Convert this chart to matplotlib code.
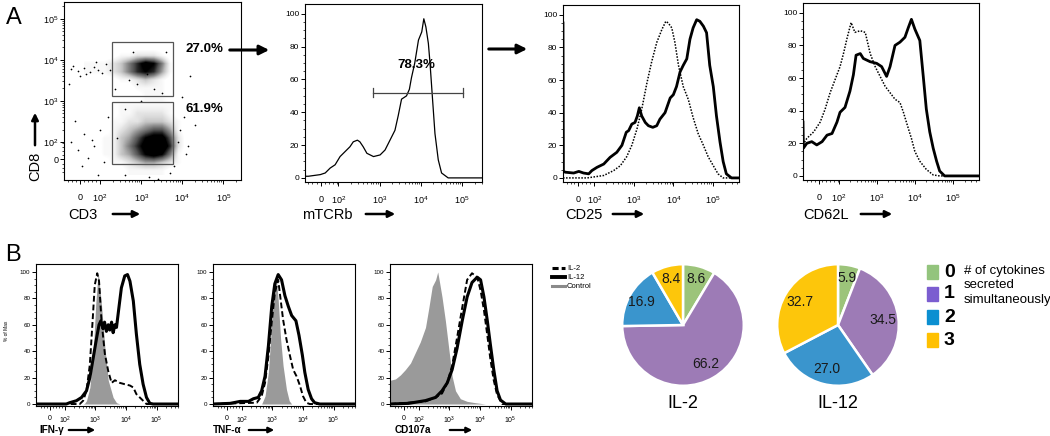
import numpy as np
import matplotlib
matplotlib.use('Agg')
import matplotlib.pyplot as plt
from matplotlib.patches import Rectangle
from matplotlib.lines import Line2D

plt.rcParams['font.family'] = ['Liberation Sans', 'DejaVu Sans']
plt.rcParams['mathtext.fontset'] = 'custom'
plt.rcParams['mathtext.rm'] = 'Liberation Sans'

# x values are logicle-scaled intensities: u = 2 -> 10^2, u = 3 -> 10^3 ...
# y values are % of max

# ---- panel A: CD3 / CD8 dot plot (event density on a 0.2-decade grid) ----
dens_x = [1.7, 1.9, 2.1, 2.3, 2.5, 2.7, 2.9, 3.1, 3.3, 3.5, 3.7, 3.9, 4.1]
dens_y = [4.3, 4.1, 3.9, 3.7, 3.5, 3.3, 3.1, 2.9, 2.7, 2.5, 2.3, 2.1, 1.9, 1.7, 1.5, 1.3]
density = [
    [0, 0, 0, 0, 0, 0, 0, 0, 0, 0, 0, 0, 0],
    [0, 0, 0, 0, 1, 1, 2, 2, 2, 1, 0, 0, 0],
    [1, 1, 1, 2, 3, 5, 7, 9, 8, 5, 1, 0, 0],
    [1, 1, 1, 2, 3, 5, 7, 8, 7, 4, 1, 0, 0],
    [0, 0, 0, 0, 1, 1, 2, 3, 2, 1, 0, 0, 0],
    [0, 0, 0, 0, 0, 0, 1, 1, 1, 1, 0, 0, 0],
    [0, 0, 0, 0, 0, 0, 0, 1, 1, 1, 0, 0, 0],
    [0, 0, 0, 0, 1, 1, 1, 1, 1, 1, 1, 0, 0],
    [0, 0, 0, 0, 1, 1, 2, 2, 2, 2, 1, 0, 0],
    [0, 0, 0, 1, 1, 2, 2, 3, 3, 3, 2, 1, 0],
    [0, 0, 0, 1, 2, 3, 4, 5, 6, 6, 4, 1, 0],
    [0, 0, 1, 1, 3, 4, 6, 8, 9, 9, 6, 2, 0],
    [0, 0, 1, 1, 3, 5, 7, 9, 10, 10, 7, 2, 0],
    [0, 0, 1, 1, 3, 4, 6, 8, 9, 8, 5, 1, 0],
    [0, 0, 0, 1, 1, 2, 3, 4, 4, 3, 2, 1, 0],
    [0, 0, 0, 0, 0, 1, 1, 1, 1, 1, 0, 0, 0],
]
sparse_x = [1.3, 1.45, 1.6, 1.75, 1.85, 1.95, 2.05, 1.5, 2.15, 1.3, 1.45, 1.6, 1.7, 1.85,
            2.0, 2.1, 1.95, 1.55, 2.2, 1.4, 4.0, 3.9, 4.1, 4.05, 3.3, 3.5, 2.9, 3.6, 2.8,
            3.2, 3.4, 3.7, 2.6, 4.3, 3.0, 2.6, 1.25, 2.35, 4.2, 3.8, 1.35, 1.65, 1.9, 2.25,
            1.8, 2.4, 3.95, 4.15, 2.7, 3.15]
sparse_y = [3.78, 3.72, 3.8, 3.7, 3.82, 3.75, 3.68, 3.6, 3.9, 2.0, 1.8, 2.2, 1.6, 1.9,
            2.3, 1.5, 1.2, 1.4, 2.6, 2.5, 3.1, 2.0, 1.7, 2.6, 3.3, 3.2, 3.4, 4.2, 4.2,
            1.15, 1.1, 1.25, 1.2, 2.4, 3.0, 2.8, 3.4, 3.3, 3.6, 1.4, 3.85, 3.65, 3.95,
            3.75, 2.05, 2.1, 2.3, 1.9, 3.5, 3.65]
gate_cd8 = [2.28, 3.12, 1.49, 1.31]   # x, y, width, height
gate_cd4 = [2.28, 1.47, 1.49, 1.49]
gate_pct = ['27.0%', '61.9%']

# ---- panel A: histograms ----
mtcr_u = [1.19, 1.20, 1.27, 1.56, 1.68, 1.80, 1.92, 2.04, 2.16, 2.28, 2.36, 2.46, 2.52, 2.60,
          2.69, 2.85, 3.01, 3.13, 3.25, 3.37, 3.45, 3.53, 3.65, 3.72, 3.77, 3.85, 3.94, 4.02,
          4.07, 4.12, 4.18, 4.22, 4.27, 4.34, 4.42, 4.50, 4.66, 5.48]
mtcr_y = [28, 1, 1, 2, 3, 6, 8, 13, 16, 19, 22, 23, 22, 19, 15, 13, 14, 17, 23, 29, 38, 48,
          50, 54, 61, 70, 84, 89, 97, 92, 82, 70, 52, 27, 11, 3, 0, 0]
mtcr_gate = [2.85, 5.01, 52]
mtcr_pct = '78.3%'

cd25_solid_u = [1.21, 1.22, 1.27, 1.48, 1.61, 1.73, 1.86, 1.94, 2.07, 2.24, 2.40, 2.57, 2.70,
                2.81, 2.87, 2.95, 3.03, 3.09, 3.14, 3.20, 3.29, 3.37, 3.48, 3.58, 3.66, 3.79,
                3.92, 4.00, 4.08, 4.17, 4.25, 4.34, 4.42, 4.50, 4.59, 4.67, 4.76, 4.84, 4.92,
                5.01, 5.09, 5.18, 5.26, 5.34, 5.47, 5.66]
cd25_solid_y = [95, 4, 3.5, 3, 4, 3, 2.5, 4.5, 6.5, 8.5, 12.6, 15.7, 20, 28, 29, 33, 34, 38,
                43, 38, 34, 32, 31, 32, 36, 40, 49, 51, 56, 65, 69, 73, 85, 92, 97, 96, 93,
                89, 69, 56, 38, 22, 10, 2.5, 0, 0]
cd25_dot_u = [1.21, 1.82, 2.24, 2.49, 2.66, 2.82, 2.95, 3.08, 3.20, 3.33, 3.45, 3.58, 3.71,
              3.81, 3.87, 3.96, 4.04, 4.13, 4.25, 4.38, 4.50, 4.63, 4.76, 4.88, 5.01, 5.13,
              5.26, 5.66]
cd25_dot_y = [0, 0, 1.5, 4.5, 7.5, 13, 20, 30, 42, 58, 71, 83, 91, 96, 95, 92, 83, 69, 56,
              48, 37, 27, 20, 13, 7.5, 2.5, 0, 0]

cd62_solid_u = [1.07, 1.08, 1.17, 1.30, 1.43, 1.57, 1.70, 1.83, 1.96, 2.04, 2.17, 2.30, 2.39,
                2.46, 2.57, 2.65, 2.83, 3.00, 3.13, 3.26, 3.35, 3.48, 3.61, 3.74, 3.83, 3.91,
                4.00, 4.13, 4.22, 4.30, 4.39, 4.48, 4.57, 4.65, 4.78, 5.68]
cd62_solid_y = [33, 17, 20, 21, 19, 21, 25, 26, 33, 39, 42, 52, 62, 74, 75, 72, 70, 69, 67,
                61, 67, 80, 82, 85, 91, 96, 90, 83, 61, 41, 27, 17, 9, 3, 0, 0]
cd62_dot_u = [1.07, 1.17, 1.35, 1.52, 1.65, 1.78, 1.91, 2.04, 2.13, 2.23, 2.33, 2.43, 2.57,
              2.70, 2.83, 2.96, 3.09, 3.22, 3.35, 3.48, 3.61, 3.70, 3.83, 3.91, 4.00, 4.13,
              4.30, 4.48, 4.65, 5.68]
cd62_dot_y = [19, 23, 27, 33, 41, 51, 59, 67, 75, 85, 94, 88, 89, 88, 75, 67, 61, 55, 51, 47,
              45, 39, 29, 23, 15, 9, 4, 0.6, 0, 0]

# ---- panel B: cytokine histograms (control filled, IL-2 dashed, IL-12 solid) ----
ifn_ctrl_u = [2.60, 2.65, 2.71, 2.82, 2.93, 3.01, 3.09, 3.11, 3.20, 3.31, 3.42, 3.58, 3.69, 3.80]
ifn_ctrl_y = [0, 0.5, 2.5, 12.5, 38, 75, 100, 96, 75, 43, 18, 5, 1, 0]
ifn_il2_u = [1.05, 2.49, 2.60, 2.71, 2.82, 2.91, 2.98, 3.06, 3.12, 3.20, 3.31, 3.42, 3.53, 3.64,
             3.80, 3.96, 4.13, 4.24, 4.34, 4.45, 4.56, 4.67, 5.70]
ifn_il2_y = [0, 0, 2.5, 10, 30, 63, 90, 99, 93, 63, 38, 25, 16, 18, 16, 15, 14, 12.5, 7.5, 5,
             2.5, 0, 0]
ifn_il12_u = [1.05, 2.05, 2.16, 2.38, 2.55, 2.71, 2.82, 2.93, 3.04, 3.12, 3.18, 3.25, 3.30,
              3.36, 3.42, 3.47, 3.53, 3.58, 3.64, 3.69, 3.78, 3.85, 3.96, 4.05, 4.13, 4.24,
              4.34, 4.45, 4.56, 4.67, 4.78, 4.89, 5.70]
ifn_il12_y = [0, 0, 1, 2.5, 5, 10, 20, 35, 50, 60, 63, 57, 62, 55, 60, 56, 62, 54, 60, 58, 75,
              88, 97, 98, 93, 78, 53, 30, 15, 5, 0.5, 0, 0]

tnf_ctrl_u = [2.65, 2.76, 2.87, 2.98, 3.05, 3.12, 3.19, 3.27, 3.35, 3.46, 3.55, 3.63]
tnf_ctrl_y = [0, 6, 24, 62, 87, 97, 79, 49, 29, 11, 2.5, 0]
tnf_il2_u = [1.06, 2.49, 2.65, 2.76, 2.87, 2.98, 3.08, 3.19, 3.27, 3.35, 3.46, 3.57, 3.68,
             3.79, 3.90, 4.00, 4.11, 4.22, 5.68]
tnf_il2_y = [0, 1, 6, 16, 36, 62, 84, 94, 79, 64, 49, 37, 26, 21, 14, 6, 1, 0, 0]
tnf_il12_u = [1.06, 1.62, 1.95, 2.22, 2.38, 2.54, 2.65, 2.76, 2.87, 2.98, 3.08, 3.19, 3.30,
              3.41, 3.52, 3.63, 3.77, 3.87, 3.98, 4.06, 4.17, 4.28, 4.38, 4.55, 5.68]
tnf_il12_y = [0, 0.5, 2, 2, 4, 5, 10, 21, 44, 74, 91, 98, 94, 82, 74, 67, 63, 52, 37, 24, 11,
              4, 1, 0, 0]

cd107_ctrl_u = [1.07, 1.24, 1.40, 1.56, 1.73, 1.89, 2.05, 2.22, 2.33, 2.44, 2.55, 2.62, 2.68,
                2.76, 2.87, 2.98, 3.09, 3.20, 3.36, 3.58, 3.85, 4.18, 5.71]
cd107_ctrl_y = [18, 19, 22, 26, 31, 39, 47, 58, 73, 89, 94, 100, 92, 81, 63, 42, 21, 10, 4, 2,
                1, 0, 0]
cd107_il2_u = [1.07, 2.22, 2.55, 2.76, 2.93, 3.09, 3.25, 3.42, 3.58, 3.74, 3.91, 4.02, 4.13,
               4.24, 4.34, 4.45, 4.56, 4.73, 5.71]
cd107_il2_y = [0, 2, 5, 8, 16, 29, 50, 73, 94, 99, 96, 86, 71, 52, 34, 18, 7, 0, 0]
cd107_il12_u = [1.07, 1.67, 2.22, 2.55, 2.76, 2.93, 3.09, 3.25, 3.42, 3.58, 3.74, 3.91, 4.02,
                4.13, 4.24, 4.34, 4.45, 4.56, 4.67, 4.84, 5.71]
cd107_il12_y = [0, 0.5, 2.6, 5, 10, 16, 26, 42, 63, 81, 92, 96, 94, 81, 63, 45, 26, 10, 3, 0, 0]

legend_b = ['IL-2', 'IL-12', 'Control']

# ---- panel B: pies ----
n_cytokines = ['0', '1', '2', '3']
pie_il2 = [8.6, 66.2, 16.9, 8.4]
pie_il12 = [5.9, 34.5, 27.0, 32.7]
pie_colors = ['#9cc47a', '#9d7bb6', '#3a95cd', '#fdc60b']
key_colors = ['#93c47d', '#7b5dd0', '#0b8fd1', '#ffc000']

# ------------------------------------------------------------------
W, H = 1050, 436
fig = plt.figure(figsize=(W / 100, H / 100), dpi=100)


def box(l, t, r, b):
    return [l / W, 1 - b / H, (r - l) / W, (b - t) / H]


def fx(p):
    return p / W


def fy(p):
    return 1 - p / H


def decade_minors(lo, hi):
    m = [d + np.log10(k) for d in range(1, 6) for k in range(2, 10)]
    return [v for v in m if lo < v < hi and v > 2]


def flow_x(ax, u0, lo, hi, fs, pad):
    ax.set_xlim(lo, hi)
    ax.set_xticks([u0, 2, 3, 4, 5])
    ax.set_xticklabels(['0', '$10^2$', '$10^3$', '$10^4$', '$10^5$'], fontsize=fs)
    ax.set_xticks(decade_minors(lo, hi) + list(np.arange(u0 - 0.3, 2, 0.1)), minor=True)
    ax.tick_params(axis='x', which='major', length=3, pad=pad, width=0.7)
    ax.tick_params(axis='x', which='minor', length=1.5, width=0.5)


def hist_y(ax, lo, hi, fs):
    ax.set_ylim(lo, hi)
    ax.set_yticks([0, 20, 40, 60, 80, 100])
    ax.set_yticklabels(['0', '20', '40', '60', '80', '100'], fontsize=fs)
    ax.set_yticks(np.arange(0, 101, 5), minor=True)
    ax.tick_params(axis='y', which='major', length=3, pad=1, width=0.7)
    ax.tick_params(axis='y', which='minor', length=1.5, width=0.5)


def arrow(x0, y0, x1, y1, lw=2.0, ms=12):
    fig.add_artist(matplotlib.patches.FancyArrowPatch(
        (fx(x0), fy(y0)), (fx(x1), fy(y1)), transform=fig.transFigure,
        arrowstyle='-|>', mutation_scale=ms, lw=lw, color='black'))


# ---- A: dot plot ----
ax = fig.add_axes(box(64, 2, 241, 180))
ax.imshow(density, extent=[1.6, 4.2, 1.2, 4.4], origin='upper', cmap='Greys', vmin=0.6,
          vmax=8, interpolation='bilinear', aspect='auto')
ax.scatter(sparse_x, sparse_y, s=1.5, color='black', lw=0)
ax.add_patch(Rectangle((gate_cd8[0], gate_cd8[1]), gate_cd8[2], gate_cd8[3], fill=False,
                       ec='#555555', lw=0.9))
ax.add_patch(Rectangle((gate_cd4[0], gate_cd4[1]), gate_cd4[2], gate_cd4[3], fill=False,
                       ec='#555555', lw=0.9))
ax.text(4.07, 4.27, gate_pct[0], fontsize=9.5, fontweight='bold', va='center')
ax.text(4.07, 2.81, gate_pct[1], fontsize=9.5, fontweight='bold', va='center')
flow_x(ax, 1.51, 1.12, 5.43, 6.5, 6)
ax.set_ylim(1.07, 5.41)
ax.set_yticks([1.57, 2, 3, 4, 5])
ax.set_yticklabels(['0', '$10^2$', '$10^3$', '$10^4$', '$10^5$'], fontsize=6.5)
ax.set_yticks(decade_minors(1.07, 5.41) + list(np.arange(1.27, 2, 0.1)), minor=True)
ax.tick_params(axis='y', which='major', length=3, pad=1, width=0.7)
ax.tick_params(axis='y', which='minor', length=1.5, width=0.5)

# ---- A: histograms ----
ax = fig.add_axes(box(305, 4, 482, 182))
ax.plot(mtcr_u, mtcr_y, color='black', lw=0.9)
ax.plot([mtcr_gate[0], mtcr_gate[1]], [mtcr_gate[2]] * 2, color='#444444', lw=0.9)
for g in mtcr_gate[:2]:
    ax.plot([g, g], [mtcr_gate[2] - 2.5, mtcr_gate[2] + 2.5], color='#444444', lw=0.9)
ax.text(3.9, 69, mtcr_pct, fontsize=9.5, fontweight='bold', ha='center', va='center')
flow_x(ax, 1.57, 1.19, 5.48, 6.5, 6)
hist_y(ax, -2.5, 106, 6)

ax = fig.add_axes(box(563, 5, 739, 182))
ax.plot(cd25_dot_u, cd25_dot_y, color='black', lw=1.1, ls=(0, (1, 1)))
ax.plot(cd25_solid_u, cd25_solid_y, color='black', lw=2.0)
flow_x(ax, 1.6, 1.21, 5.66, 6.5, 6)
hist_y(ax, -2.5, 106, 6)

ax = fig.add_axes(box(803, 3, 979, 180))
ax.plot(cd62_dot_u, cd62_dot_y, color='black', lw=1.1, ls=(0, (1, 1)))
ax.plot(cd62_solid_u, cd62_solid_y, color='black', lw=2.0)
flow_x(ax, 1.48, 1.07, 5.68, 6.5, 6)
hist_y(ax, -2.5, 106, 6)

fig.text(fx(6), fy(18), 'A', fontsize=17, va='center')
for lbl, x0, a0, a1 in [('CD3', 68, 110, 143), ('mTCRb', 302, 363, 398),
                        ('CD25', 565, 610, 647), ('CD62L', 803, 858, 895)]:
    fig.text(fx(x0), fy(215), lbl, fontsize=10.5, va='center')
    arrow(a0, 214, a1, 214, lw=1.8, ms=10)
fig.text(fx(35), fy(166), 'CD8', fontsize=10.5, rotation=90, ha='center', va='center')
arrow(35, 148, 35, 110, lw=1.8, ms=10)
arrow(227, 50, 272, 50, lw=2.2, ms=14)
arrow(486, 49, 530, 49, lw=2.2, ms=14)

# ---- B: histograms ----
b_panels = [
    (36, 'IFN-γ', 39, 66, 98, ifn_ctrl_u, ifn_ctrl_y, ifn_il2_u, ifn_il2_y, ifn_il12_u, ifn_il12_y),
    (213, 'TNF-α', 213, 246, 277, tnf_ctrl_u, tnf_ctrl_y, tnf_il2_u, tnf_il2_y, tnf_il12_u, tnf_il12_y),
    (390, 'CD107a', 395, 447, 475, cd107_ctrl_u, cd107_ctrl_y, cd107_il2_u, cd107_il2_y,
     cd107_il12_u, cd107_il12_y),
]
for left, lbl, tx, a0, a1, cu, cy, du, dy, su, sy in b_panels:
    ax = fig.add_axes(box(left, 264, left + 142, 406))
    ax.fill_between(cu, cy, 0, color='#9a9a9a', lw=0)
    ax.plot(du, dy, color='black', lw=1.4, ls=(0, (3, 1.5)))
    ax.plot(su, sy, color='black', lw=2.2)
    flow_x(ax, 1.52, 1.06, 5.70, 5, 3.5)
    hist_y(ax, -1.5, 106, 4.5)
    for s in ax.spines.values():
        s.set_linewidth(0.8)
    fig.text(fx(tx), fy(430), lbl, fontsize=7.2, fontweight='bold', va='center')
    arrow(a0, 430, a1, 430, lw=1.6, ms=8)

fig.text(fx(6), fy(331), '% of Max', fontsize=3.5, rotation=90, ha='center', va='center')
fig.text(fx(5), fy(255), 'B', fontsize=17, va='center')

for i, (lbl, ls, lw, col) in enumerate(zip(legend_b, [(0, (2, 1)), '-', '-'], [2.2, 2.8, 2.2],
                                           ['black', 'black', '#8a8a8a'])):
    y = 268 + 9 * i
    fig.add_artist(Line2D([fx(552), fx(565)], [fy(y), fy(y)], transform=fig.transFigure,
                          color=col, lw=lw, ls=ls))
    fig.text(fx(567), fy(y), lbl, fontsize=5.5, va='center')

# ---- B: pies ----
for cx, vals, name in [(683, pie_il2, 'IL-2'), (838, pie_il12, 'IL-12')]:
    ax = fig.add_axes(box(cx - 62, 263, cx + 62, 387))
    wedges, _ = ax.pie(vals, colors=pie_colors, startangle=90, counterclock=False,
                       wedgeprops=dict(edgecolor='white', linewidth=1.8))
    ax.set_xlim(-1.02, 1.02)
    ax.set_ylim(-1.02, 1.02)
    for w, v in zip(wedges, vals):
        ang = np.deg2rad((w.theta1 + w.theta2) / 2)
        r = 0.78 if v < 20 else 0.74
        ax.text(r * np.cos(ang), r * np.sin(ang), f'{v:.1f}', fontsize=10,
                ha='center', va='center', color='#1a1a1a')
    fig.text(fx(cx), fy(403), name, fontsize=13, ha='center', va='center')

for i, (lab, col) in enumerate(zip(n_cytokines, key_colors)):
    yc = [272, 294, 317, 340][i]
    fig.add_artist(Rectangle((fx(927), fy(yc + 7)), 11 / W, 14 / H, transform=fig.transFigure,
                             color=col))
    fig.text(fx(944), fy(yc), lab, fontsize=14, fontweight='bold', va='center')
fig.text(fx(964), fy(265), '# of cytokines\nsecreted\nsimultaneously', fontsize=9.5,
         va='top', linespacing=1.25)

fig.savefig('out.png', dpi=100)
